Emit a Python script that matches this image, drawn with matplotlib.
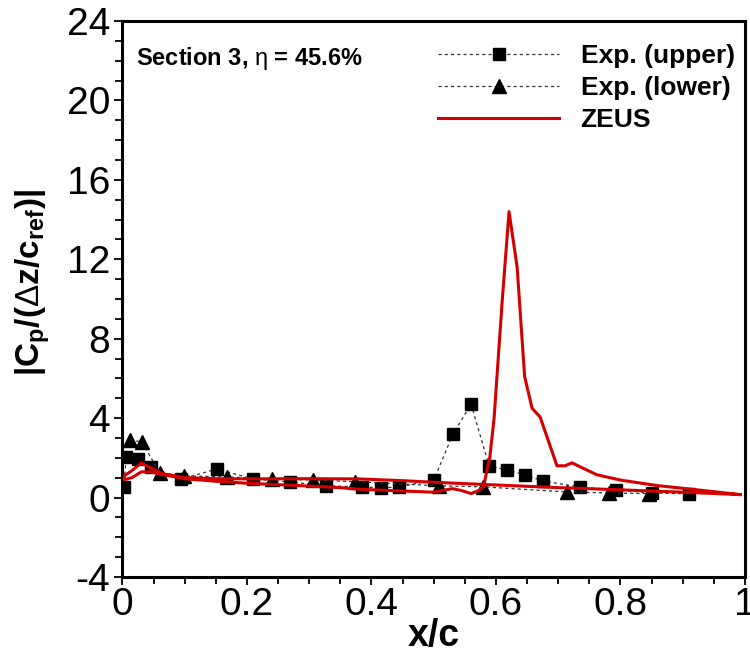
import matplotlib
matplotlib.use("Agg")
import matplotlib.pyplot as plt
from matplotlib.ticker import MultipleLocator

plt.rcParams['font.family'] = ['Liberation Sans', 'DejaVu Sans']
plt.rcParams['mathtext.fontset'] = 'custom'
plt.rcParams['mathtext.rm'] = 'Liberation Sans'
plt.rcParams['mathtext.bf'] = 'Liberation Sans:bold'
plt.rcParams['mathtext.it'] = 'Liberation Sans:italic'
plt.rcParams['axes.unicode_minus'] = False

# Experimental data, upper surface
exp_upper_x = [0.002, 0.006, 0.025, 0.046, 0.094, 0.152, 0.21, 0.269, 0.327, 0.385,
               0.415, 0.444, 0.50, 0.531, 0.56, 0.589, 0.618, 0.647, 0.676, 0.735,
               0.793, 0.851, 0.91]
exp_upper_y = [0.53, 2.04, 1.93, 1.54, 0.93, 1.44, 0.93, 0.79, 0.59, 0.54,
               0.49, 0.53, 0.88, 3.2, 4.71, 1.59, 1.39, 1.14, 0.83, 0.53,
               0.38, 0.23, 0.19]

# Experimental data, lower surface
exp_lower_x = [0.012, 0.031, 0.06, 0.099, 0.168, 0.24, 0.306, 0.373, 0.508, 0.579,
               0.714, 0.782, 0.846]
exp_lower_y = [2.9, 2.8, 1.24, 1.09, 1.04, 0.93, 0.88, 0.8, 0.59, 0.54,
               0.28, 0.23, 0.2]

# ZEUS prediction, surface A (with shock peak), leading edge to trailing edge
zeus_a_x = [0.003, 0.015, 0.03, 0.045, 0.065, 0.1, 0.15, 0.2, 0.25, 0.3, 0.35, 0.38,
            0.45, 0.5, 0.53, 0.545, 0.56, 0.572, 0.58, 0.59, 0.597, 0.61, 0.621,
            0.634, 0.646, 0.658, 0.671, 0.698, 0.711, 0.722, 0.735, 0.762, 0.8,
            0.86, 0.92, 0.992]
zeus_a_y = [0.9, 1.0, 1.29, 1.3, 1.15, 0.95, 0.82, 0.72, 0.65, 0.58, 0.5, 0.42,
            0.33, 0.27, 0.45, 0.35, 0.2, 0.35, 0.55, 2.0, 4.0, 9.9, 14.4,
            11.6, 6.1, 4.5, 4.05, 1.6, 1.6, 1.75, 1.55, 1.15, 0.88,
            0.6, 0.4, 0.15]

# ZEUS prediction, surface B, leading edge to trailing edge
zeus_b_x = [0.003, 0.015, 0.03, 0.045, 0.065, 0.1, 0.15, 0.2, 0.3, 0.38, 0.45, 0.5,
            0.58, 0.7, 0.8, 0.9, 0.992]
zeus_b_y = [1.1, 1.35, 1.74, 1.5, 1.2, 1.0, 0.95, 0.94, 0.95, 0.94, 0.85, 0.77,
            0.66, 0.5, 0.39, 0.27, 0.15]

fig = plt.figure(figsize=(7.5, 6.53), dpi=100)
ax = fig.add_axes([0.1633, 0.1164, 0.8300, 0.8515])

red = '#d40000'
ax.plot(exp_upper_x, exp_upper_y, linestyle=(0, (2.5, 2.5)), color='#333333', lw=0.9,
        marker='s', ms=9, mfc='black', mec='black', label='Exp. (upper)', zorder=3)
ax.plot(exp_lower_x, exp_lower_y, linestyle=(0, (2.5, 2.5)), color='#333333', lw=0.9,
        marker='^', ms=10, mfc='black', mec='black', label='Exp. (lower)', zorder=3)
# closed ZEUS curve: trailing edge along surface B to the leading edge, back along A
zx = zeus_b_x[::-1] + zeus_a_x
zy = zeus_b_y[::-1] + zeus_a_y
ax.plot(zx, zy, color=red, lw=2.2, label='ZEUS', zorder=4)

ax.set_xlim(0, 1)
ax.set_ylim(-4, 24)
ax.xaxis.set_major_locator(MultipleLocator(0.2))
ax.xaxis.set_minor_locator(MultipleLocator(0.05))
ax.yaxis.set_major_locator(MultipleLocator(4))
ax.yaxis.set_minor_locator(MultipleLocator(1))
ax.xaxis.set_major_formatter(plt.FuncFormatter(lambda v, p: f'{v:g}'))

for s in ax.spines.values():
    s.set_linewidth(2.2)
ax.tick_params(which='both', direction='out', top=False, right=False,
               labelsize=28, width=1.3)
ax.tick_params(which='major', length=6)
ax.tick_params(which='minor', length=5)
ax.tick_params(axis='x', which='major', pad=1)
ax.tick_params(axis='y', which='major', pad=3)

ax.set_xlabel('x/c', fontsize=27, fontweight='bold')
ax.xaxis.set_label_coords(0.5, -0.074)
ax.set_ylabel(r'$\mathbf{|C_p/(}\mathrm{\Delta}\mathbf{z/c_{ref})|}$', fontsize=24)
ax.yaxis.set_label_coords(-0.114, 0.53)

ax.text(0.022, 0.933, r'Section 3, $\mathrm{\eta}$ = 45.6%', fontweight='bold',
        transform=ax.transAxes, fontsize=17, va='center', ha='left')

leg = ax.legend(loc='upper left', bbox_to_anchor=(0.49, 0.977), frameon=False,
                prop={'size': 19, 'weight': 'bold'}, handlelength=4.6,
                handletextpad=0.8, labelspacing=0.3, borderaxespad=0)

fig.savefig('out.png', dpi=100)
